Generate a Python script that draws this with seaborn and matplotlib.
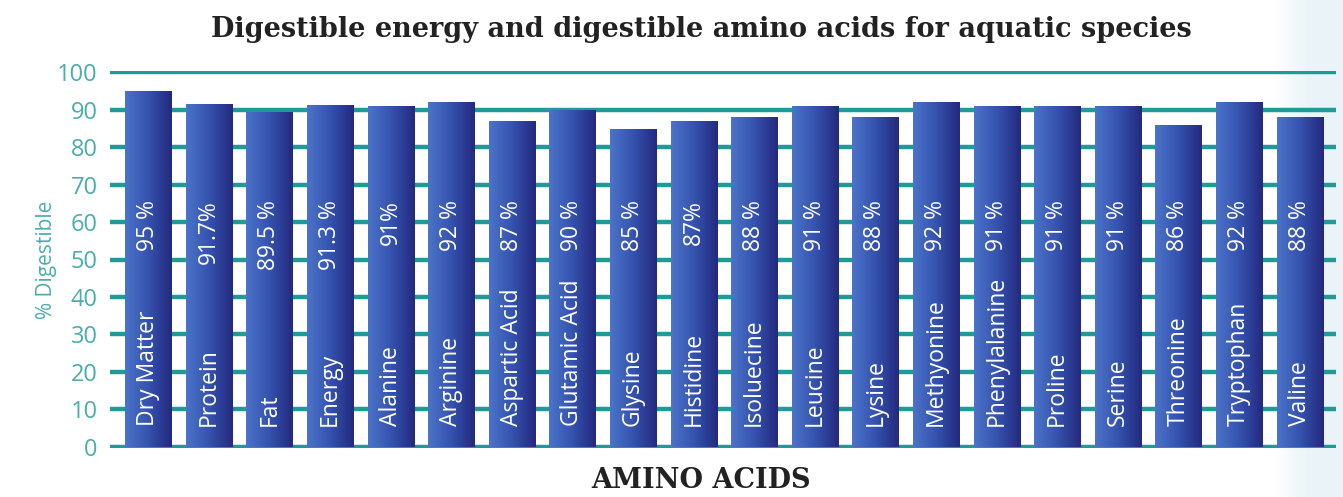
import numpy as np
import pandas as pd
import matplotlib
matplotlib.use("Agg")
import matplotlib.pyplot as plt
from matplotlib.colors import LinearSegmentedColormap
import seaborn as sns

# Digestibility per nutrient (%)
categories = ["Dry Matter", "Protein", "Fat", "Energy", "Alanine", "Arginine",
              "Aspartic Acid", "Glutamic Acid", "Glysine", "Histidine",
              "Isoluecine", "Leucine", "Lysine", "Methyonine", "Phenylalanine",
              "Proline", "Serine", "Threonine", "Tryptophan", "Valine"]
values = [95, 91.7, 89.5, 91.3, 91, 92, 87, 90, 85, 87,
          88, 91, 88, 92, 91, 91, 91, 86, 92, 88]
value_labels = ["95 %", "91.7%", "89.5 %", "91.3 %", "91%", "92 %", "87 %", "90 %",
                "85 %", "87%", "88 %", "91 %", "88 %", "92 %", "91 %", "91 %",
                "91 %", "86 %", "92 %", "88 %"]
y_ticks = [0, 10, 20, 30, 40, 50, 60, 70, 80, 90, 100]

df = pd.DataFrame({"nutrient": categories, "digestible": values})

sns.set_theme(style="white")
plt.rcParams["font.family"] = ["Open Sans", "DejaVu Sans"]

W, H = 1343, 497
fig = plt.figure(figsize=(W / 100, H / 100), dpi=100)
fig.patch.set_facecolor("white")

# pale panel along the right edge
bg = fig.add_axes([0, 0, 1, 1], zorder=-10)
grad = np.linspace(0, 1, 400)
grad = np.clip((grad - 0.95) / 0.025, 0, 1)
bg_cmap = LinearSegmentedColormap.from_list("edge", ["#ffffff", "#eaf4f8"])
bg.imshow(grad[np.newaxis, :], aspect="auto", cmap=bg_cmap, extent=[0, 1, 0, 1])
bg.set_axis_off()

teal_grid = "#1e9b96"
teal_text = "#4aaeac"

ax = fig.add_axes([110 / W, (H - 448) / H, (1336 - 110) / W, (448 - 71) / H])
ax.patch.set_alpha(0)

sns.barplot(data=df, x="nutrient", y="digestible", ax=ax, width=0.76,
            color="#3448a8", saturation=1, linewidth=0, zorder=3)

ax.set_yticks(y_ticks)
ax.set_yticklabels([str(t) for t in y_ticks], color=teal_text, fontsize=17)
ax.tick_params(axis="y", length=0, pad=9)
ax.set_xticks([])
ax.set_xlabel("")
ax.set_ylabel("% Digestible", color=teal_text, fontsize=15, labelpad=0)
for s in ax.spines.values():
    s.set_visible(False)

for t in y_ticks:
    ax.axhline(t, color=teal_grid, lw=3.2, zorder=1)

# horizontal gradient fill for each bar
bar_cmap = LinearSegmentedColormap.from_list("bar", ["#4c74c9", "#3452ae", "#24297f"])
gx = np.linspace(0, 1, 256)[np.newaxis, :]
for patch in ax.patches:
    x0, y0 = patch.get_x(), patch.get_y()
    w, h = patch.get_width(), patch.get_height()
    im = ax.imshow(gx, aspect="auto", cmap=bar_cmap, extent=[x0, x0 + w, y0, y0 + h],
                   zorder=4, interpolation="bicubic")
    im.set_clip_path(patch)
    patch.set_facecolor("none")
ax.set_xlim(-0.63, 19.6)
ax.set_ylim(-0.4, 100.4)

for i, (name, lab) in enumerate(zip(categories, value_labels)):
    ax.text(i, 5.6, name, rotation=90, ha="center", va="bottom",
            color="white", fontsize=16.5, zorder=5)
    ax.text(i, 65.8, lab, rotation=90, ha="center", va="top",
            color="white", fontsize=16.5, zorder=5)

fig.text(0.522, 0.94, "Digestible energy and digestible amino acids for aquatic species",
         ha="center", va="center", fontsize=19.5, fontweight="bold",
         family="DejaVu Serif", color="#222222")
fig.text(0.522, 0.033, "AMINO ACIDS", ha="center", va="center", fontsize=19.5,
         fontweight="bold", family="DejaVu Serif", color="#222222")

fig.savefig("out.png", dpi=100)
